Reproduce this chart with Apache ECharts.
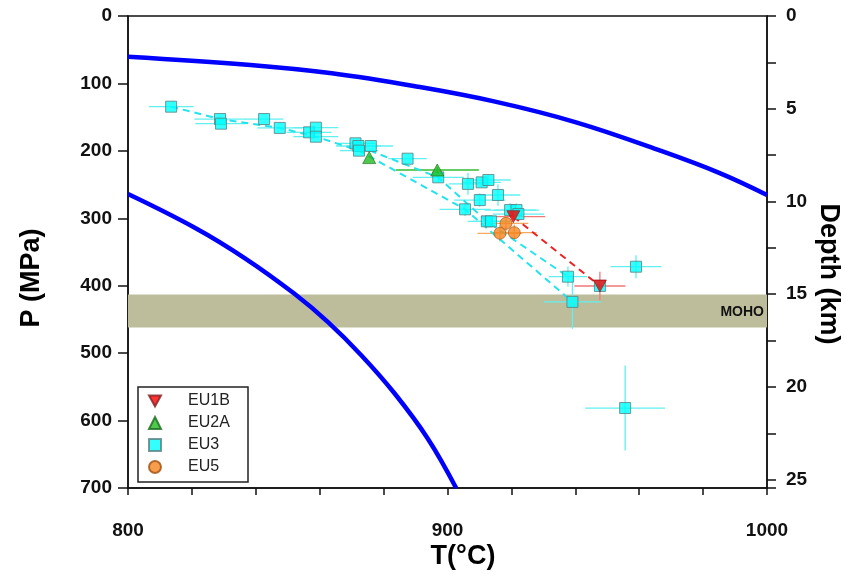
<!DOCTYPE html>
<html><head><meta charset="utf-8">
<script src="https://cdn.jsdelivr.net/npm/echarts@6/dist/echarts.min.js"></script>
<style>html,body{margin:0;padding:0;background:#fff}#c{width:845px;height:574px}</style>
</head><body><div id="c"></div>
<script>
// Solidus-type curves (T in °C, P in MPa)
const curveUpperT = [800, 838.3, 863.8, 889.4, 914.9, 940.5, 966, 985.2, 1000];
const curveUpperP = [60.4, 72.7, 85, 103.8, 127, 158, 198.7, 233, 265.5];
const curveLowerT = [800, 820.9, 836.5, 852.1, 862.6, 873, 883.4, 893.8, 902.7];
const curveLowerP = [264, 314, 359, 412, 454, 503, 559.5, 626.5, 700];

// MOHO band (MPa)
const mohoP = [413, 462];

// EU3
const eu3T    = [813.5, 828.8, 829.1, 842.6, 847.5, 856.7, 858.8, 858.8, 871.2, 872.1, 872.3, 876.0, 887.5, 897.1, 906.4, 910.7, 912.8, 915.8, 910.1, 905.5, 919.6, 921.6, 922.2, 912.3, 913.6, 937.7, 939.1, 959.0, 955.6, 947.7];
const eu3P    = [134.5, 152.8, 159.7, 152.8, 166.0, 172.5, 165.6, 179.0, 188.8, 192.8, 199.7, 192.8, 211.6, 239.3, 249.0, 246.7, 243.2, 265.5, 273.0, 286.7, 287.8, 287.8, 293.7, 304.5, 304.5, 386.6, 424.0, 371.8, 581.4, 400.4];
const eu3Terr = [7, 8, 8, 6, 7, 7, 7, 7, 6, 7, 6, 7, 6, 8, 6, 6, 7, 7, 8, 8, 8, 7, 8, 6, 6, 6, 9, 8, 12.5, 0];
const eu3Perr = [0, 0, 0, 0, 0, 0, 0, 0, 0, 0, 0, 0, 0, 8, 16, 8, 8, 16, 10, 10, 10, 10, 10, 8, 8, 15, 40, 17, 63, 0];

// EU1B
const eu1bT = [920.6, 947.7];
const eu1bP = [297.6, 400.4];
const eu1bTerr = [10, 8];
const eu1bPerr = [0, 21];

// EU2A
const eu2aT = [875.5, 896.8];
const eu2aP = [210.0, 228.4];
const eu2aTerr = [0, 13];
const eu2aPerr = [0, 5];

// EU5
const eu5T = [918.3, 916.4, 920.9];
const eu5P = [307.5, 322.3, 321.3];
const eu5Terr = [7, 7, 7];
const eu5Perr = [12, 12, 12];

// P-T paths (dashed)
const cyanPath1 = [[813.5,134.5],[828.8,152.8],[847.5,166],[858.8,179],[872.3,199.7],[905.5,286.7],[939.1,424]];
const cyanPath2 = [[872.1,192.8],[897.1,239.3],[912.3,304.5],[937.7,386.6]];
const redPath   = [[920.6,297.6],[947.7,400.4]];

const FONT = '"Liberation Sans", Arial, sans-serif';

function pairs(a, b) { return a.map((v, i) => [v, b[i]]); }
function quads(a, b, c, d) { return a.map((v, i) => [v, b[i], c[i], d[i]]); }

function errSeries(T, P, dT, dP, color) {
  return {
    type: 'custom', z: 3, silent: true,
    data: quads(T, P, dT, dP),
    encode: { x: 0, y: 1 },
    renderItem: function (params, api) {
      const t = api.value(0), p = api.value(1), et = api.value(2), ep = api.value(3);
      const ch = [];
      if (et > 0) {
        const l = api.coord([t - et, p]), r = api.coord([t + et, p]);
        ch.push({ type: 'line', shape: { x1: l[0], y1: l[1], x2: r[0], y2: r[1] }, style: { stroke: color, lineWidth: 1.3 } });
      }
      if (ep > 0) {
        const u = api.coord([t, p - ep]), d = api.coord([t, p + ep]);
        ch.push({ type: 'line', shape: { x1: u[0], y1: u[1], x2: d[0], y2: d[1] }, style: { stroke: color, lineWidth: 1.3 } });
      }
      return { type: 'group', children: ch };
    }
  };
}

function dashed(path, color) {
  return {
    type: 'line', data: path, symbol: 'none', z: 3, silent: true,
    lineStyle: { color: color, width: 2, type: [7, 5] }
  };
}

const chart = echarts.init(document.getElementById('c'));
const tickLabel = { fontSize: 19, fontWeight: 'bold', color: '#111', fontFamily: FONT };

chart.setOption({
  animation: false,
  backgroundColor: '#fff',
  grid: { left: 128, right: 78, top: 16, bottom: 86, show: true, borderColor: '#111', borderWidth: 1.5, backgroundColor: 'transparent' },
  xAxis: {
    type: 'value', min: 800, max: 1000, interval: 20, position: 'bottom',
    axisLine: { onZero: false, lineStyle: { color: '#111', width: 1.5 } },
    axisTick: { show: true, length: 7, lineStyle: { color: '#111', width: 1.5 } },
    axisLabel: Object.assign({ margin: 33, formatter: v => (v % 100 === 0 ? String(v) : '') }, tickLabel),
    splitLine: { show: false }
  },
  yAxis: [{
    type: 'value', min: 0, max: 700, interval: 100, inverse: true, position: 'left',
    axisLine: { show: true, onZero: false, lineStyle: { color: '#111', width: 1.5 } },
    axisTick: { show: true, length: 10, lineStyle: { color: '#111', width: 1.5 } },
    axisLabel: Object.assign({ margin: 16 }, tickLabel),
    splitLine: { show: false }
  }, {
    type: 'value', min: 0, max: 25.45, interval: 2.5, inverse: true, position: 'right',
    axisLine: { show: true, onZero: false, lineStyle: { color: '#111', width: 1.5 } },
    axisTick: { show: true, length: 9, lineStyle: { color: '#111', width: 1.5 } },
    axisLabel: Object.assign({ margin: 19, formatter: v => (Math.abs(v % 5) < 1e-9 ? String(v) : '') }, tickLabel),
    splitLine: { show: false }
  }],
  legend: {
    data: ['EU1B', 'EU2A', 'EU3', 'EU5'],
    orient: 'vertical', left: 148, top: 393, padding: 0,
    itemWidth: 12, itemHeight: 12, itemGap: 6,
    textStyle: { fontSize: 16, color: '#222', fontFamily: FONT, padding: [0, 0, 0, 22] },
    selectedMode: false
  },
  graphic: [
    { type: 'rect', z: 1, shape: { x: 138, y: 387, width: 110, height: 95 }, style: { fill: '#fff', stroke: '#222', lineWidth: 1.5 } },
    { type: 'text', x: 463, y: 557, style: { text: 'T(°C)', font: 'bold 27px ' + FONT, fill: '#000', textAlign: 'center', textVerticalAlign: 'middle' } },
    { type: 'text', x: 32, y: 278, rotation: Math.PI / 2, style: { text: 'P (MPa)', font: 'bold 27px ' + FONT, fill: '#000', textAlign: 'center', textVerticalAlign: 'middle' } },
    { type: 'text', x: 828, y: 274, rotation: -Math.PI / 2, style: { text: 'Depth (km)', font: 'bold 27px ' + FONT, fill: '#000', textAlign: 'center', textVerticalAlign: 'middle' } }
  ],
  series: [
    {
      type: 'custom', z: 1, silent: true,
      data: [[800, mohoP[0], 1000, mohoP[1]]],
      encode: { x: [0, 2], y: [1, 3] },
      renderItem: function (params, api) {
        const a = api.coord([api.value(0), api.value(1)]);
        const b = api.coord([api.value(2), api.value(3)]);
        return { type: 'group', children: [
          { type: 'rect', shape: { x: a[0], y: a[1], width: b[0] - a[0], height: b[1] - a[1] }, style: { fill: '#bdbd9b' } },
          { type: 'text', style: { text: 'MOHO', x: b[0] - 3, y: (a[1] + b[1]) / 2 + 1, textAlign: 'right', textVerticalAlign: 'middle', font: 'bold 14px ' + FONT, fill: '#111' } }
        ] };
      }
    },
    { type: 'line', data: pairs(curveUpperT, curveUpperP), smooth: 0.4, symbol: 'none', z: 2, silent: true, lineStyle: { color: '#0000ff', width: 4.5 } },
    { type: 'line', data: pairs(curveLowerT, curveLowerP), smooth: 0.4, symbol: 'none', z: 2, silent: true, lineStyle: { color: '#0000ff', width: 4.5 } },
    errSeries(eu3T, eu3P, eu3Terr, eu3Perr, '#60f0f0'),
    errSeries(eu1bT, eu1bP, eu1bTerr, eu1bPerr, '#f07878'),
    errSeries(eu2aT, eu2aP, eu2aTerr, eu2aPerr, '#33bb33'),
    errSeries(eu5T, eu5P, eu5Terr, eu5Perr, '#f5a860'),
    dashed(cyanPath1, '#22e4ec'),
    dashed(cyanPath2, '#22e4ec'),
    dashed(redPath, '#ee2020'),
    { name: 'EU3', type: 'scatter', z: 4, data: pairs(eu3T, eu3P), symbol: 'rect', symbolSize: 11,
      itemStyle: { color: '#00ffff', borderColor: '#5a8080', borderWidth: 1 } },
    { name: 'EU1B', type: 'scatter', z: 5, data: pairs(eu1bT, eu1bP), symbol: 'path://M0,0 L10,0 L5,9 Z', symbolSize: [13, 12],
      itemStyle: { color: '#ff0000', borderColor: '#802020', borderWidth: 0.8 } },
    { name: 'EU2A', type: 'scatter', z: 5, data: pairs(eu2aT, eu2aP), symbol: 'triangle', symbolSize: [13, 12],
      itemStyle: { color: '#22bb22', borderColor: '#1a6a1a', borderWidth: 0.8 } },
    { name: 'EU5', type: 'scatter', z: 5, data: pairs(eu5T, eu5P), symbol: 'circle', symbolSize: 12,
      itemStyle: { color: '#f5841f', borderColor: '#a05010', borderWidth: 0.8 } }
  ]
});
</script>
</body></html>
